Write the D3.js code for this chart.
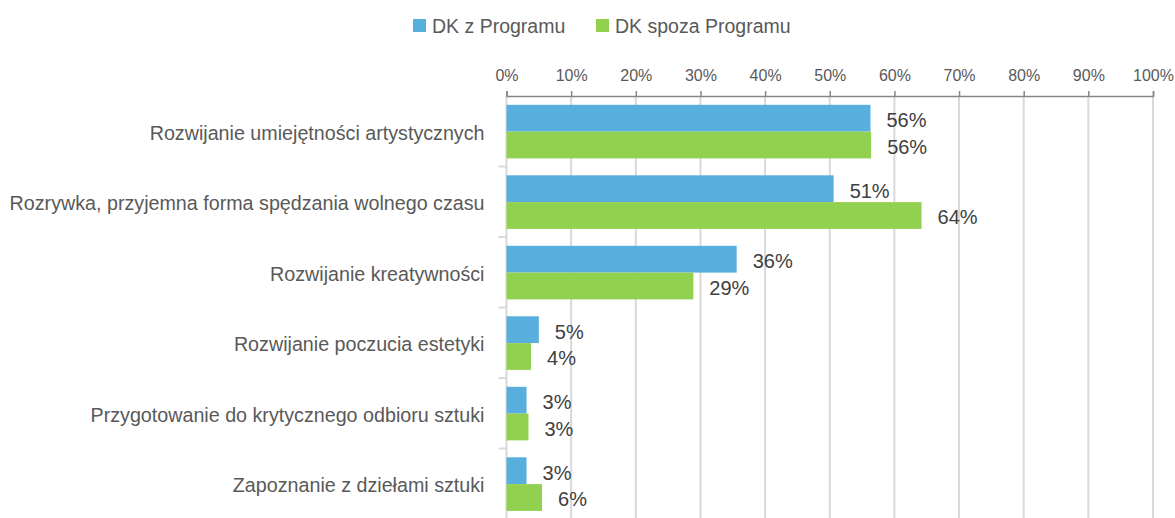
<!DOCTYPE html>
<html>
<head>
<meta charset="utf-8">
<script src="https://cdn.jsdelivr.net/npm/d3@7"></script>
<style>
  body { margin: 0; background: #fff; }
  text { font-family: "Liberation Sans", Arial, sans-serif; }
</style>
</head>
<body>
<script>
var categories = [
  'Rozwijanie umiejętności artystycznych',
  'Rozrywka, przyjemna forma spędzania wolnego czasu',
  'Rozwijanie kreatywności',
  'Rozwijanie poczucia estetyki',
  'Przygotowanie do krytycznego odbioru sztuki',
  'Zapoznanie z dziełami sztuki'
];
var seriesNames = ['DK z Programu', 'DK spoza Programu'];
var inProgram = [56.3, 50.6, 35.6, 5.0, 3.1, 3.1];
var outProgram = [56.4, 64.2, 28.9, 3.8, 3.4, 5.5];
var tickValues = [0, 10, 20, 30, 40, 50, 60, 70, 80, 90, 100];
var colors = ['#58AEDD', '#92D14F'];

var width = 1175, height = 518;
var margin = {top: 96, left: 506.5, right: 22, bottom: -1};

var svg = d3.select('body')
  .append('svg')
  .attr('width', width)
  .attr('height', height);

var x = d3.scaleLinear()
  .domain([0, 100])
  .range([margin.left, width - margin.right]);

var y = d3.scaleBand()
  .domain(categories)
  .range([margin.top, height - margin.bottom]);

var inner = d3.scaleBand()
  .domain(seriesNames)
  .range([y.bandwidth() * 0.125, y.bandwidth() * 0.885]);

// gridlines
svg.append('g')
  .selectAll('line')
  .data(tickValues.slice(1))
  .enter()
  .append('line')
  .attr('x1', d => x(d)).attr('x2', d => x(d))
  .attr('y1', margin.top).attr('y2', height)
  .attr('stroke', '#d9d9d9')
  .attr('stroke-width', 2);

// left axis line + category ticks
svg.append('line')
  .attr('x1', x(0)).attr('x2', x(0))
  .attr('y1', margin.top).attr('y2', height)
  .attr('stroke', '#d9d9d9')
  .attr('stroke-width', 2);

svg.append('g')
  .selectAll('line')
  .data(categories.slice(1))
  .enter()
  .append('line')
  .attr('x1', x(0) - 8).attr('x2', x(0))
  .attr('y1', d => y(d)).attr('y2', d => y(d))
  .attr('stroke', '#d9d9d9')
  .attr('stroke-width', 2);

// top axis
var xAxis = d3.axisTop(x)
  .tickValues(tickValues)
  .tickSize(5)
  .tickPadding(10)
  .tickFormat(d => d + '%');

var ax = svg.append('g')
  .attr('transform', 'translate(0,' + margin.top + ')')
  .call(xAxis);
ax.select('.domain').attr('stroke', '#868686').attr('stroke-width', 1.5);
ax.selectAll('.tick line').attr('stroke', '#868686').attr('stroke-width', 1.5);
ax.selectAll('.tick text')
  .attr('fill', '#595959')
  .style('font-size', '16px')
  .style('font-family', '"Liberation Sans", Arial, sans-serif');

// bars
var rows = categories.map((c, i) => ({cat: c, vals: [inProgram[i], outProgram[i]]}));

var groups = svg.append('g')
  .selectAll('g')
  .data(rows)
  .enter()
  .append('g')
  .attr('transform', d => 'translate(0,' + y(d.cat) + ')');

groups.selectAll('rect')
  .data(d => d.vals.map((v, j) => ({name: seriesNames[j], v: v, j: j})))
  .enter()
  .append('rect')
  .attr('x', x(0))
  .attr('y', d => inner(d.name))
  .attr('width', d => x(d.v) - x(0))
  .attr('height', inner.bandwidth())
  .attr('fill', d => colors[d.j]);

groups.selectAll('text.val')
  .data(d => d.vals.map((v, j) => ({name: seriesNames[j], v: v, j: j})))
  .enter()
  .append('text')
  .attr('class', 'val')
  .attr('x', d => x(d.v) + 16)
  .attr('y', d => inner(d.name) + inner.bandwidth() / 2)
  .attr('dy', '0.45em')
  .attr('fill', '#404040')
  .style('font-size', '20px')
  .text(d => Math.round(d.v) + '%');

// category labels
svg.append('g')
  .selectAll('text')
  .data(categories)
  .enter()
  .append('text')
  .attr('x', x(0) - 22)
  .attr('y', d => y(d) + y.bandwidth() / 2)
  .attr('dy', '0.42em')
  .attr('text-anchor', 'end')
  .attr('fill', '#595959')
  .style('font-size', '19.7px')
  .text(d => d);

// legend
var legend = svg.append('g');
var legX = [413, 596];
seriesNames.forEach((n, i) => {
  legend.append('rect')
    .attr('x', legX[i]).attr('y', 19)
    .attr('width', 13).attr('height', 13)
    .attr('fill', colors[i]);
  legend.append('text')
    .attr('x', legX[i] + 19).attr('y', 25.5)
    .attr('dy', '0.38em')
    .attr('fill', '#595959')
    .style('font-size', '19.5px')
    .text(n);
});
</script>
</body>
</html>
